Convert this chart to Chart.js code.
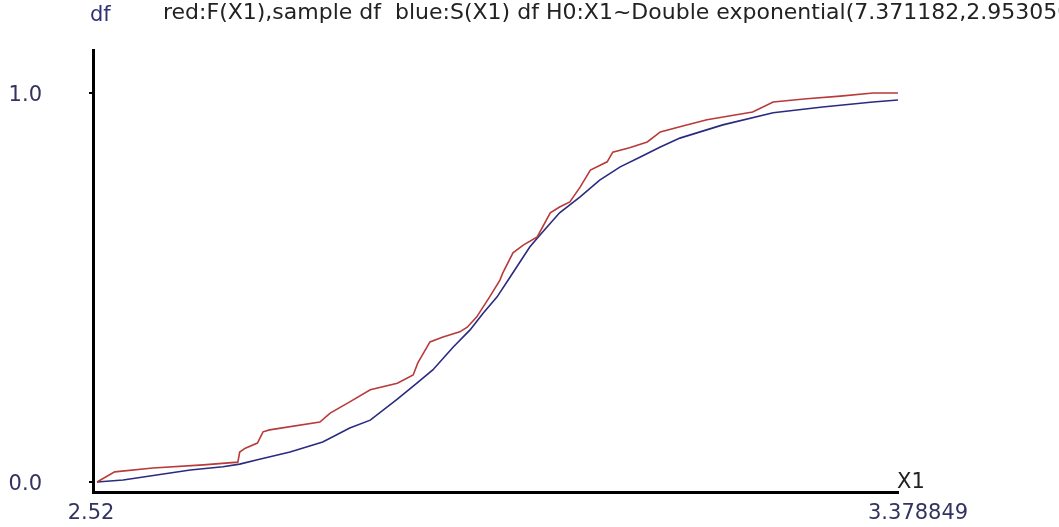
<!DOCTYPE html>
<html>
<head>
<meta charset="utf-8">
<script src="https://cdn.jsdelivr.net/npm/chart.js@4"></script>
<style>
  html, body { margin: 0; padding: 0; background: #fff; }
</style>
</head>
<body>
<canvas id="myChart" width="1059" height="527"></canvas>
<script>
// red: sample df F(X1)
var sampleX = [2.52, 2.539, 2.580, 2.634, 2.671, 2.673, 2.679, 2.692, 2.698, 2.705, 2.759, 2.770, 2.791, 2.813, 2.842, 2.859, 2.864, 2.877, 2.891, 2.909, 2.917, 2.927, 2.941, 2.952, 2.955, 2.966, 2.977, 2.992, 3.006, 3.016, 3.027, 3.038, 3.049, 3.067, 3.073, 3.091, 3.110, 3.124, 3.145, 3.174, 3.223, 3.245, 3.281, 3.317, 3.352, 3.3788];
var sampleY = [0.000, 0.026, 0.036, 0.044, 0.051, 0.077, 0.087, 0.100, 0.129, 0.134, 0.154, 0.177, 0.206, 0.237, 0.254, 0.275, 0.306, 0.360, 0.373, 0.386, 0.398, 0.424, 0.476, 0.519, 0.537, 0.589, 0.609, 0.630, 0.692, 0.707, 0.720, 0.758, 0.802, 0.823, 0.848, 0.859, 0.874, 0.900, 0.913, 0.931, 0.951, 0.977, 0.985, 0.992, 1.000, 1.000];
// blue: fitted df S(X1)
var fitX = [2.52, 2.548, 2.584, 2.620, 2.655, 2.673, 2.692, 2.727, 2.762, 2.791, 2.813, 2.842, 2.863, 2.880, 2.902, 2.920, 2.934, 2.949, 2.963, 2.984, 2.995, 3.016, 3.038, 3.059, 3.081, 3.102, 3.124, 3.145, 3.191, 3.245, 3.298, 3.352, 3.3788];
var fitY = [0.000, 0.005, 0.018, 0.031, 0.039, 0.046, 0.057, 0.077, 0.103, 0.139, 0.159, 0.213, 0.254, 0.288, 0.347, 0.391, 0.434, 0.476, 0.527, 0.604, 0.635, 0.692, 0.733, 0.776, 0.810, 0.835, 0.861, 0.884, 0.918, 0.949, 0.964, 0.977, 0.982];

var xTicks = [2.52, 3.378849];
var xTickLabels = ["2.52", "3.378849"];
var yTicks = [0, 1];
var titleText = "red:F(X1),sample df  blue:S(X1) df H0:X1~Double exponential(7.371182,2.953050";

function pairs(xs, ys) {
  return xs.map(function (x, i) { return { x: x, y: ys[i] }; });
}

function noPad(s) {
  s.paddingLeft = 0; s.paddingRight = 0; s.paddingTop = 0; s.paddingBottom = 0;
}

// extra labels the old program put round the axes
var axisText = {
  id: 'axisText',
  afterDraw: function (chart) {
    var ctx = chart.ctx, a = chart.chartArea, xs = chart.scales.x;
    ctx.save();
    ctx.textBaseline = 'middle';
    ctx.textAlign = 'left';
    ctx.font = '22px "DejaVu Sans"';
    ctx.fillStyle = '#222222';
    ctx.fillText(titleText, 163, 13);

    ctx.font = '21px "DejaVu Sans"';
    ctx.fillStyle = '#30307a';
    ctx.fillText('df', a.left - 3, 16);
    ctx.fillStyle = '#222222';
    ctx.fillText('X1', a.right - 1, a.bottom - 9);

    ctx.fillStyle = '#33335f';
    ctx.textAlign = 'center';
    ctx.fillText(xTickLabels[0], xs.getPixelForValue(xTicks[0]) - 6, a.bottom + 22);
    ctx.textAlign = 'left';
    ctx.fillText(xTickLabels[1], xs.getPixelForValue(xTicks[1]) - 30, a.bottom + 22);
    ctx.restore();
  }
};

var ctx = document.getElementById("myChart");
var myChart = new Chart(ctx, {
  type: 'line',
  data: {
    datasets: [
      {
        label: "F(X1) sample df",
        data: pairs(sampleX, sampleY),
        borderColor: "#b83a3a",
        borderWidth: 1.6,
        pointRadius: 0,
        tension: 0,
        fill: false
      },
      {
        label: "S(X1) df",
        data: pairs(fitX, fitY),
        borderColor: "#2a2a80",
        borderWidth: 1.6,
        pointRadius: 0,
        tension: 0,
        fill: false
      }
    ]
  },
  options: {
    responsive: false,
    animation: false,
    devicePixelRatio: 1,
    layout: { padding: { top: 50, right: 161, bottom: 35, left: 0 } },
    plugins: {
      legend: { display: false },
      title: { display: false },
      tooltip: { enabled: false }
    },
    scales: {
      x: {
        type: 'linear',
        min: 2.5157,
        max: 3.378849,
        grid: { display: false },
        border: { display: true, color: '#000', width: 3 },
        ticks: { display: false },
        afterFit: function (s) { s.height = 0; noPad(s); }
      },
      y: {
        min: -0.0257,
        max: 1.1105,
        afterBuildTicks: function (s) {
          s.ticks = yTicks.map(function (v) { return { value: v }; });
        },
        grid: { drawOnChartArea: false, drawTicks: true, tickLength: 4, color: '#000', lineWidth: 2 },
        border: { display: true, color: '#000', width: 3 },
        ticks: {
          padding: 47,
          labelOffset: 3,
          color: '#33335f',
          font: { family: 'DejaVu Sans', size: 21 },
          callback: function (v) { return Number(v).toFixed(1); }
        },
        afterFit: function (s) { s.width = 93; noPad(s); }
      }
    }
  },
  plugins: [axisText]
});
</script>
</body>
</html>
